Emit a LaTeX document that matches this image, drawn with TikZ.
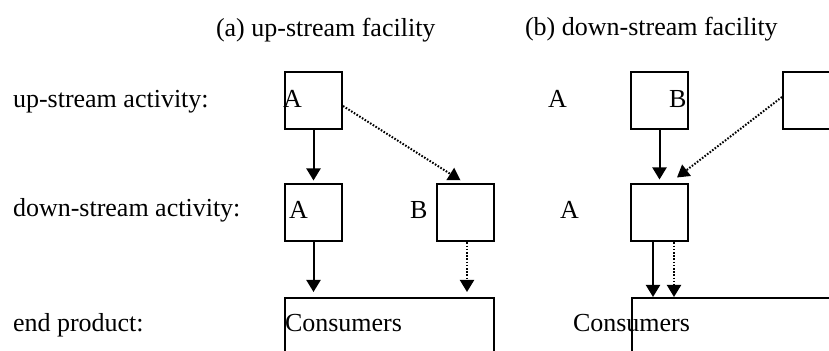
\documentclass[tikz,border=0pt]{standalone}
\usepackage{fontspec}
\setmainfont{Liberation Serif}
\usepackage{tikz}
\usetikzlibrary{arrows.meta}
\usetikzlibrary{calc}

\begin{document}
\begin{tikzpicture}[x=0.5pt, y=-0.5pt, line width=1pt,
        every node/.style={font=\fontsize{13}{15}\selectfont},
        txt/.style={anchor=base west, inner sep=0pt},
        unit/.style={shape=rectangle, draw=black, minimum width=28.5pt, minimum height=28.5pt, inner sep=0pt},
        wide/.style={unit, minimum width=104.5pt, minimum height=50pt},
        flow/.style={-{Triangle[length=6pt,width=7pt]}},
        dflow/.style={flow, dash pattern=on 0.8pt off 0.8pt}]
        \clip (0,0) rectangle (829,351);
        % titles and row names
        \node[txt] (ttlA) at (215,37) {(a) up-stream facility};
        \node[txt] (ttlB) at (524,36) {(b) down-stream facility};
        \node[txt] (rowUp) at (12,108) {up-stream activity:};
        \node[txt] (rowDn) at (12,217) {down-stream activity:};
        \node[txt] (rowEnd) at (12,332) {end product:};
        % (a) up-stream facility
        \node[unit] (upA) at (313.5,101) {};
        \node[unit] (dnA) at (313.5,213) {};
        \node[unit] (dnB) at (465.5,213) {};
        \node[wide] (cons) at (389,348) {};
        \node[txt] (labA1) at (282,108) {A};
        \node[txt] (labA2) at (288,219) {A};
        \node[txt] (labB2) at (409,219) {B};
        \node[txt] (labC) at (284,332) {Consumers};
        \draw[flow, shorten >=1.5pt] (upA) -- (dnA);
        \draw[dflow, shorten >=3pt] ($(upA.east)+(0,5)$) -- (dnB.north);
        \coordinate (a1) at (dnA.south);
        \coordinate (a2) at ($(dnB.south)+(1.5,0)$);
        \draw[flow, shorten >=2.5pt] (a1) -- (a1 |- cons.north);
        \draw[dflow, shorten >=2.5pt] (a2) -- (a2 |- cons.north);
        % (b) down-stream facility
        \node[unit] (upB) at (659.5,101) {};
        \node[unit] (upC) at (811.5,101) {};
        \node[unit] (dnC) at (659.5,213) {};
        \node[wide] (consb) at (736,348) {};
        \node[txt] (labA3) at (547,108) {A};
        \node[txt] (labB3) at (668,108) {B};
        \node[txt] (labA4) at (559,219) {A};
        \node[txt] (labCb) at (572,332) {Consumers};
        \draw[flow, shorten >=2pt] (upB) -- (dnC);
        \draw[dflow] ($(upC.west)+(0,-4)$) -- ($(dnC.north)+(17.5,-6)$);
        \coordinate (b1) at ($(dnC.south)+(-6.5,0)$);
        \coordinate (b2) at ($(dnC.south)+(14.5,0)$);
        \draw[flow] (b1) -- (b1 |- consb.north);
        \draw[dflow] (b2) -- (b2 |- consb.north);
\end{tikzpicture}
\end{document}
